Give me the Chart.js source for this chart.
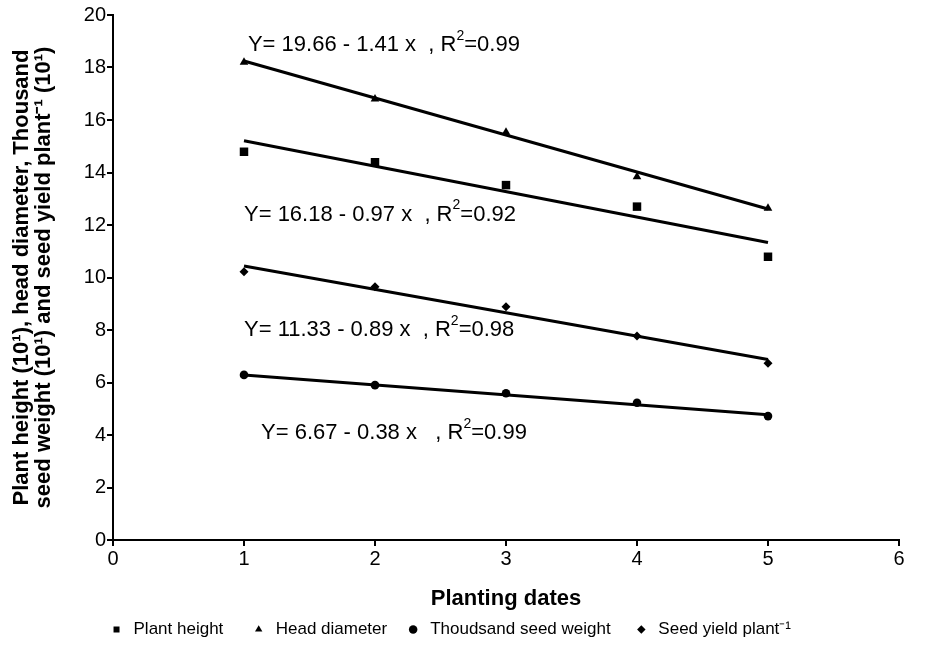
<!DOCTYPE html>
<html>
<head>
<meta charset="utf-8">
<script src="https://cdn.jsdelivr.net/npm/chart.js@4.4.1/dist/chart.umd.min.js"></script>
<style>
  html, body { margin: 0; padding: 0; background: #fff; }
  #wrap { width: 932px; height: 648px; }
</style>
</head>
<body>
<div id="wrap"><canvas id="chart" width="932" height="648"></canvas></div>
<script>
var dates = [1, 2, 3, 4, 5];
var plantHeight = [14.79, 14.39, 13.52, 12.7, 10.79];
var headDiameter = [18.2, 16.8, 15.53, 13.84, 12.64];
var thousandSeed = [6.29, 5.9, 5.59, 5.23, 4.72];
var seedYield = [10.22, 9.65, 8.89, 7.77, 6.73];

// fitted regression lines, value at date 1 and date 5
var fitDates = [1, 5];
var fitHeight = [15.21, 11.33];
var fitHead = [18.25, 12.61];
var fitThousand = [6.29, 4.77];
var fitYield = [10.44, 6.88];

var xTicks = [0, 1, 2, 3, 4, 5, 6];
var yTicks = [0, 2, 4, 6, 8, 10, 12, 14, 16, 18, 20];

// equation labels: text before the superscript, the superscript, text after
var equations = [
  { x: 1.03, y: 18.86, pre: 'Y= 19.66 - 1.41 x  , R', sup: '2', post: '=0.99' },
  { x: 1.0, y: 12.4, pre: 'Y= 16.18 - 0.97 x  , R', sup: '2', post: '=0.92' },
  { x: 1.0, y: 8.0, pre: 'Y= 11.33 - 0.89 x  , R', sup: '2', post: '=0.98' },
  { x: 1.13, y: 4.08, pre: 'Y= 6.67 - 0.38 x   , R', sup: '2', post: '=0.99' }
];

var font = '"Liberation Sans", Arial, sans-serif';

function pts(xs, ys) {
  return xs.map(function (x, i) { return { x: x, y: ys[i] }; });
}

function markerSet(label, ys, style, r) {
  return {
    type: 'scatter', label: label, data: pts(dates, ys),
    pointStyle: style, pointRadius: r, pointHoverRadius: r,
    backgroundColor: '#000', borderColor: '#000', borderWidth: 0, showLine: false
  };
}

function fitSet(ys) {
  return {
    type: 'line', label: '', data: pts(fitDates, ys),
    borderColor: '#000', borderWidth: 3, pointRadius: 0, fill: false
  };
}

// draws the regression equations with a raised "2"
var eqPlugin = {
  id: 'eqPlugin',
  afterDatasetsDraw: function (chart) {
    var ctx = chart.ctx, xs = chart.scales.x, ys = chart.scales.y;
    ctx.save();
    ctx.fillStyle = '#000';
    ctx.textBaseline = 'middle';
    ctx.textAlign = 'left';
    equations.forEach(function (e) {
      var px = xs.getPixelForValue(e.x), py = ys.getPixelForValue(e.y);
      ctx.font = '22px ' + font;
      ctx.fillText(e.pre, px, py);
      px += ctx.measureText(e.pre).width;
      ctx.font = '14px ' + font;
      ctx.fillText(e.sup, px, py - 9);
      px += ctx.measureText(e.sup).width;
      ctx.font = '22px ' + font;
      ctx.fillText(e.post, px, py);
    });
    ctx.restore();
  }
};

new Chart(document.getElementById('chart').getContext('2d'), {
  data: {
    datasets: [
      markerSet('Plant height    ', plantHeight, 'rect', 6),
      markerSet('Head diameter  ', headDiameter, 'triangle', 5),
      markerSet('Thoudsand seed weight   ', thousandSeed, 'circle', 4.3),
      markerSet('Seed yield plant\u207B\u00B9', seedYield, 'rectRot', 4.5),
      fitSet(fitHeight), fitSet(fitHead), fitSet(fitThousand), fitSet(fitYield)
    ]
  },
  options: {
    responsive: false,
    animation: false,
    layout: { padding: { top: 15, right: 33, left: 0, bottom: 0 } },
    plugins: {
      tooltip: { enabled: false },
      legend: {
        position: 'bottom',
        labels: {
          color: '#000',
          font: { family: font, size: 17 },
          usePointStyle: true,
          boxWidth: 17, boxHeight: 6,
          padding: 8,
          filter: function (item) { return item.text !== ''; }
        }
      }
    },
    scales: {
      x: {
        type: 'linear', min: 0, max: 6,
        afterBuildTicks: function (s) { s.ticks = xTicks.map(function (v) { return { value: v }; }); },
        afterFit: function (s) {
          var lh = s.chart.legend ? s.chart.legend.height : 32;
          s.height = s.chart.height - 540 - lh;
        },
        ticks: { color: '#000', font: { family: font, size: 20 }, padding: 1 },
        grid: { drawOnChartArea: false, drawTicks: true, tickLength: 6, color: '#000', lineWidth: 2 },
        border: { color: '#000', width: 2 },
        title: { display: true, text: 'Planting dates', color: '#000', font: { family: font, size: 22, weight: 'bold' }, padding: { top: 0, bottom: 1 } }
      },
      y: {
        type: 'linear', min: 0, max: 20,
        afterBuildTicks: function (s) { s.ticks = yTicks.map(function (v) { return { value: v }; }); },
        afterFit: function (s) { s.width = 113; },
        ticks: { color: '#000', font: { family: font, size: 20 }, padding: 1 },
        grid: { drawOnChartArea: false, drawTicks: true, tickLength: 6, color: '#000', lineWidth: 2 },
        border: { color: '#000', width: 2 },
        title: {
          display: true,
          text: ['Plant height (10\u00B9), head diameter, Thousand', 'seed weight (10\u00B9) and seed yield plant\u207B\u00B9 (10\u00B9)'],
          color: '#000', font: { family: font, size: 22, weight: 'bold', lineHeight: 1.0 }, padding: { top: 11, bottom: 0 }
        }
      }
    }
  },
  plugins: [eqPlugin]
});
</script>
</body>
</html>
